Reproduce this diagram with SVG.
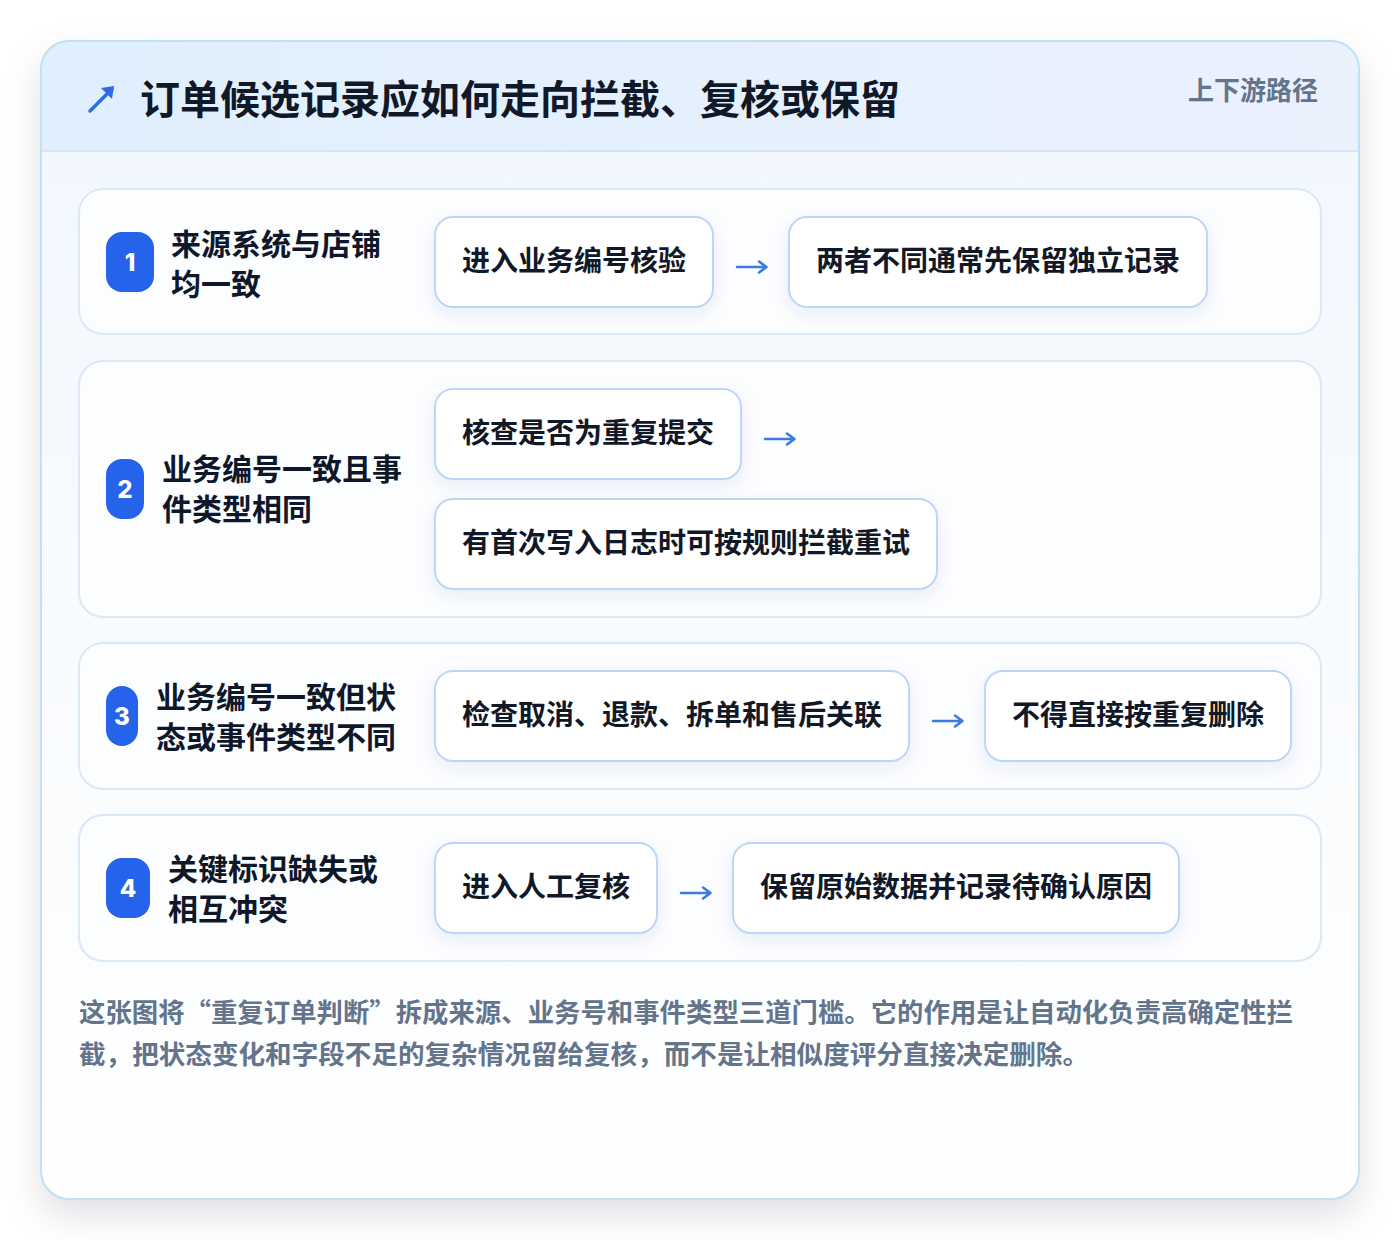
<svg xmlns="http://www.w3.org/2000/svg" width="1400" height="1240" viewBox="0 0 1400 1240">
<defs>
<linearGradient id="hdr" x1="0" y1="0" x2="1" y2="0">
<stop offset="0" stop-color="#e0effd"/>
<stop offset="1" stop-color="#ebf1fd"/>
</linearGradient>
<linearGradient id="body" x1="0" y1="0" x2="0" y2="1">
<stop offset="0" stop-color="#f1f7fe"/>
<stop offset="1" stop-color="#ffffff"/>
</linearGradient>
<filter id="cardShadow" x="-10%" y="-10%" width="120%" height="125%">
<feDropShadow dx="0" dy="16" stdDeviation="18" flood-color="#0f172a" flood-opacity="0.13"/>
</filter>
<filter id="boxShadow" x="-10%" y="-20%" width="120%" height="160%">
<feDropShadow dx="0" dy="6" stdDeviation="8" flood-color="#1e3a8a" flood-opacity="0.08"/>
</filter>
<clipPath id="cardClip"><rect x="41" y="41" width="1318" height="1158" rx="28"/></clipPath>
</defs>
<style>
.t{font-family:"Noto Sans CJK SC","Noto Sans",sans-serif;font-weight:700}
.title{font-size:40px;fill:#111827}
.tag{font-size:26px;fill:#64748b}
.lbl{font-size:30px;fill:#0f172a}
.box{fill:#ffffff;stroke:#bcd6f5;stroke-width:2}
.bt{font-size:28px;fill:#111827}
.row{fill:#fbfdff;stroke:#dbe8f8;stroke-width:2}
.badge{fill:#2563eb}
.num{font-size:24px;fill:#ffffff;font-family:"Inter","Noto Sans",sans-serif;font-weight:800}
.arr{fill:none;stroke:#3b7be0;stroke-width:2.6;stroke-linecap:round;stroke-linejoin:round}
.foot{font-size:26px;fill:#64748b}
</style>
<rect width="1400" height="1240" fill="#ffffff"/>
<g id="card">
<rect x="41" y="41" width="1318" height="1158" rx="28" fill="url(#body)" filter="url(#cardShadow)"/>
<g clip-path="url(#cardClip)">
<rect x="41" y="41" width="1318" height="110" fill="url(#hdr)"/>
<line x1="41" y1="151" x2="1359" y2="151" stroke="#d3e6f8" stroke-width="2"/>
</g>
<rect x="41" y="41" width="1318" height="1158" rx="28" fill="none" stroke="#bfe0f5" stroke-width="2"/>
</g>
<g id="header">
<g id="icon">
<line x1="90" y1="111" x2="112" y2="89" stroke="#2f6be6" stroke-width="3.5" stroke-linecap="round"/>
<path d="M114 86 L112 99 L101 88 Z" fill="#2f6be6"/>
</g>
<text class="t title" x="140" y="114">订单候选记录应如何走向拦截、复核或保留</text>
<text class="t tag" x="1318" y="100" text-anchor="end">上下游路径</text>
</g>
<g id="row1">
<rect class="row" x="79" y="189" width="1242" height="145" rx="24"/>
<rect class="badge" x="106" y="232" width="48" height="60" rx="16"/>
<text class="num" x="130" y="271" text-anchor="middle">1</text>
<text class="t lbl" x="171" y="255">来源系统与店铺</text>
<text class="t lbl" x="171" y="295">均一致</text>
</g>
<g id="n1a"><rect class="box" x="435" y="217" width="278" height="90" rx="18" filter="url(#boxShadow)"/><text class="t bt" x="462" y="271">进入业务编号核验</text></g>
<g id="n1b"><rect class="box" x="789" y="217" width="418" height="90" rx="18" filter="url(#boxShadow)"/><text class="t bt" x="816" y="271">两者不同通常先保留独立记录</text></g>
<g id="row2">
<rect class="row" x="79" y="361" width="1242" height="256" rx="24"/>
<rect class="badge" x="106" y="459" width="38" height="60" rx="16"/>
<text class="num" x="125" y="498" text-anchor="middle">2</text>
<text class="t lbl" x="162" y="480">业务编号一致且事</text>
<text class="t lbl" x="162" y="520">件类型相同</text>
</g>
<g id="n2a"><rect class="box" x="435" y="389" width="306" height="90" rx="18" filter="url(#boxShadow)"/><text class="t bt" x="462" y="443">核查是否为重复提交</text></g>
<g id="n2b"><rect class="box" x="435" y="499" width="502" height="90" rx="18" filter="url(#boxShadow)"/><text class="t bt" x="462" y="553">有首次写入日志时可按规则拦截重试</text></g>
<g id="row3">
<rect class="row" x="79" y="643" width="1242" height="146" rx="24"/>
<rect class="badge" x="106" y="686" width="32" height="60" rx="16"/>
<text class="num" x="122" y="725" text-anchor="middle">3</text>
<text class="t lbl" x="156" y="708">业务编号一致但状</text>
<text class="t lbl" x="156" y="748">态或事件类型不同</text>
</g>
<g id="n3a"><rect class="box" x="435" y="671" width="474" height="90" rx="18" filter="url(#boxShadow)"/><text class="t bt" x="462" y="725">检查取消、退款、拆单和售后关联</text></g>
<g id="n3b"><rect class="box" x="985" y="671" width="306" height="90" rx="18" filter="url(#boxShadow)"/><text class="t bt" x="1012" y="725">不得直接按重复删除</text></g>
<g id="row4">
<rect class="row" x="79" y="815" width="1242" height="146" rx="24"/>
<rect class="badge" x="106" y="858" width="44" height="60" rx="16"/>
<text class="num" x="128" y="897" text-anchor="middle">4</text>
<text class="t lbl" x="168" y="880">关键标识缺失或</text>
<text class="t lbl" x="168" y="920">相互冲突</text>
</g>
<g id="n4a"><rect class="box" x="435" y="843" width="222" height="90" rx="18" filter="url(#boxShadow)"/><text class="t bt" x="462" y="897">进入人工复核</text></g>
<g id="n4b"><rect class="box" x="733" y="843" width="446" height="90" rx="18" filter="url(#boxShadow)"/><text class="t bt" x="760" y="897">保留原始数据并记录待确认原因</text></g>
<g id="connectors">
<path class="arr" d="M737 267 H766 M759 261.5 L766.5 267 L759 272.5"/>
<path class="arr" d="M765 439 H794 M787 433.5 L794.5 439 L787 444.5"/>
<path class="arr" d="M933 721 H962 M955 715.5 L962.5 721 L955 726.5"/>
<path class="arr" d="M681 893 H710 M703 887.5 L710.5 893 L703 898.5"/>
</g>
<g id="footer">
<text class="t foot" x="79" y="1022" textLength="1214" lengthAdjust="spacingAndGlyphs">这张图将“重复订单判断”拆成来源、业务号和事件类型三道门槛。它的作用是让自动化负责高确定性拦</text>
<text class="t foot" x="79" y="1064" textLength="1010" lengthAdjust="spacingAndGlyphs">截，把状态变化和字段不足的复杂情况留给复核，而不是让相似度评分直接决定删除。</text>
</g>
</svg>
